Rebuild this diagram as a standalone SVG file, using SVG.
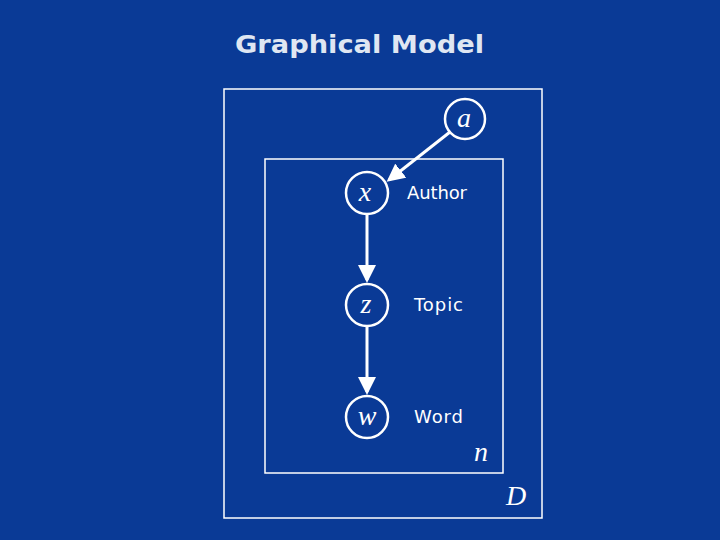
<svg xmlns="http://www.w3.org/2000/svg" width="720" height="540" viewBox="0 0 720 540">
<style>
.n{fill:none;stroke:#fff;stroke-width:2.5}
.v{font-family:"Liberation Serif",serif;font-style:italic;font-size:28px;fill:#fff;text-anchor:middle}
.l{font-family:"DejaVu Sans",sans-serif;font-size:18px;fill:#fff}
.p{fill:none;stroke:#fff;stroke-width:1.5}
.e{stroke:#fff;stroke-width:3;marker-end:url(#ah)}
</style>
<defs><marker id="ah" markerWidth="6" markerHeight="6" refX="5" refY="3" orient="auto"><path d="M0,0L6,3L0,6Z" fill="#fff"/></marker></defs>
<rect width="720" height="540" fill="#0a3a96"/>
<text x="235" y="53" font-family="DejaVu Sans,sans-serif" font-weight="bold" font-size="24" fill="#dfe6f2" textLength="249" lengthAdjust="spacingAndGlyphs">Graphical Model</text>
<rect class="p" x="224" y="89" width="318" height="429"/>
<rect class="p" x="265" y="159" width="238" height="314"/>
<text class="v" x="481" y="461" font-size="26">n</text>
<text class="v" x="516" y="505" font-size="26">D</text>
<g id="conn">
<line class="e" x1="450" y1="132" x2="389" y2="180"/>
<line class="e" x1="367" y1="215" x2="367" y2="280"/>
<line class="e" x1="367" y1="327" x2="367" y2="392"/>
</g>
<g id="a"><circle class="n" cx="465" cy="119" r="20"/><text class="v" x="464" y="127">a</text></g>
<g id="x"><circle class="n" cx="367" cy="193" r="21"/><text class="v" x="365" y="201">x</text><text class="l" x="407" y="199" textLength="60">Author</text></g>
<g id="z"><circle class="n" cx="367" cy="305" r="21"/><text class="v" x="366" y="313">z</text><text class="l" x="414" y="311" textLength="49">Topic</text></g>
<g id="w"><circle class="n" cx="367" cy="417" r="21"/><text class="v" x="367" y="425">w</text><text class="l" x="414" y="423" textLength="49">Word</text></g>
</svg>
